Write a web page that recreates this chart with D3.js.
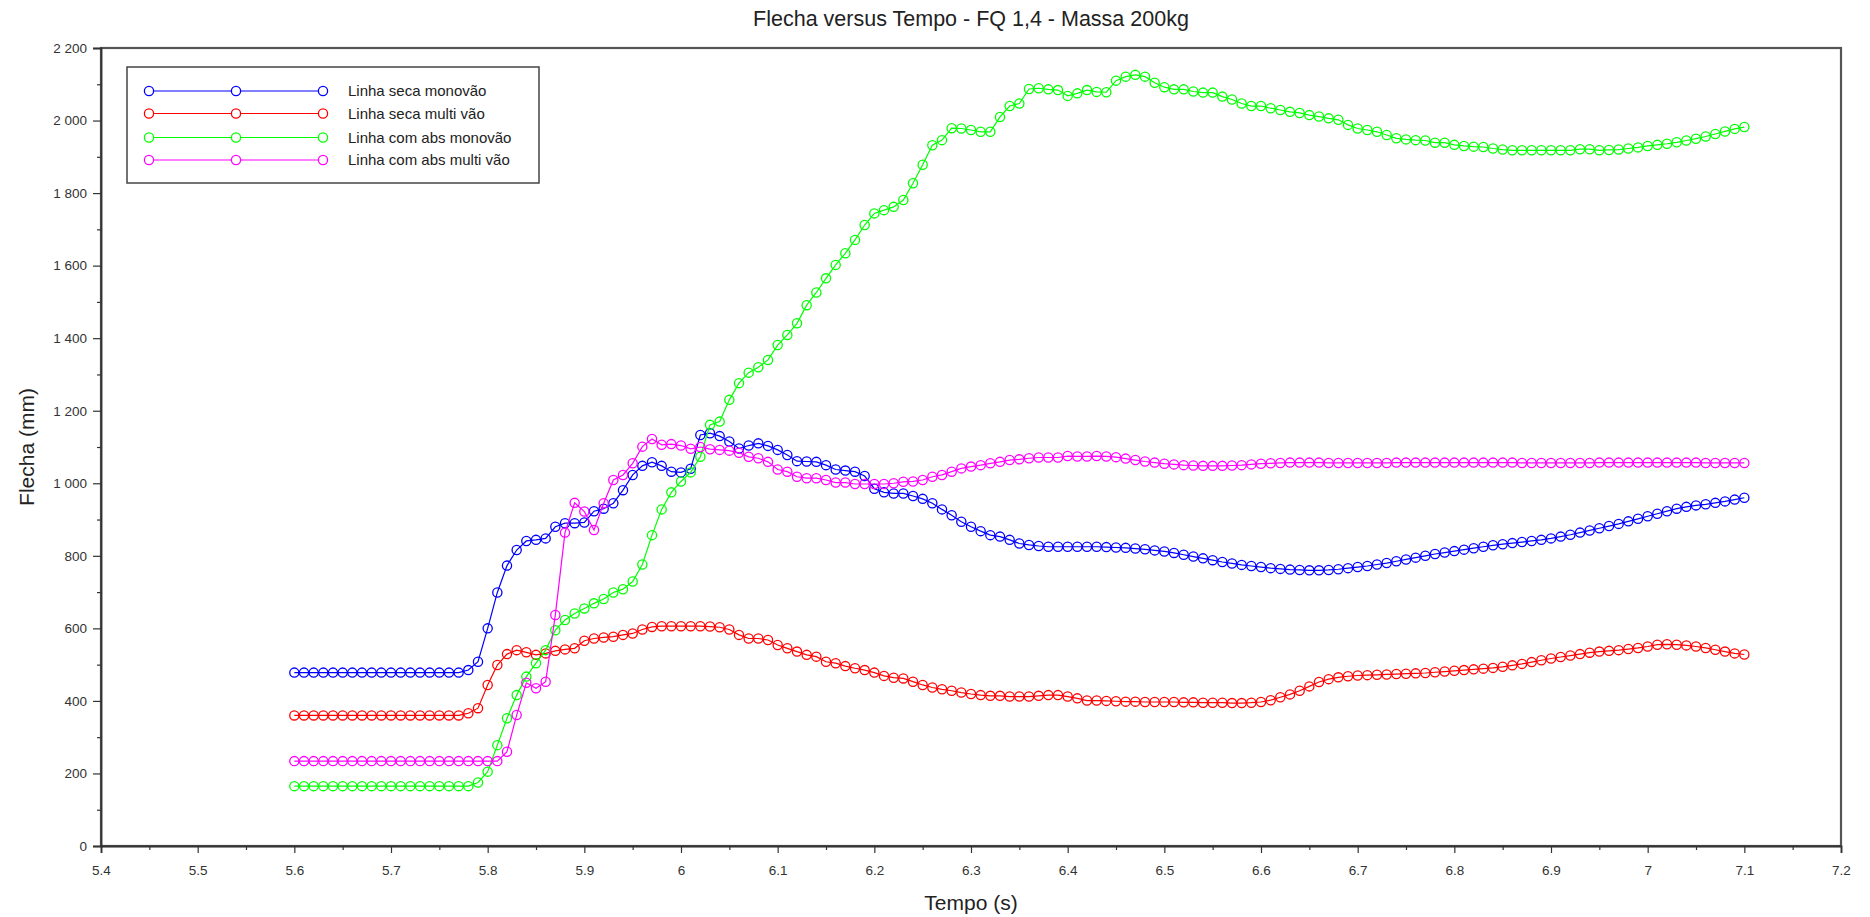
<!DOCTYPE html>
<html>
<head>
<meta charset="utf-8">
<script src="https://cdn.jsdelivr.net/npm/d3@7"></script>
<style>
  body { margin: 0; background: #fff; }
  svg { display: block; }
  text { font-family: "Liberation Sans", Arial, sans-serif; }
</style>
</head>
<body>
<svg id="chart" width="1870" height="917"></svg>
<script>
// Sample instants (s)
const tempo = [
  5.60,5.61,5.62,5.63,5.64,5.65,5.66,5.67,5.68,5.69,
  5.70,5.71,5.72,5.73,5.74,5.75,5.76,5.77,5.78,5.79,
  5.80,5.81,5.82,5.83,5.84,5.85,5.86,5.87,5.88,5.89,
  5.90,5.91,5.92,5.93,5.94,5.95,5.96,5.97,5.98,5.99,
  6.00,6.01,6.02,6.03,6.04,6.05,6.06,6.07,6.08,6.09,
  6.10,6.11,6.12,6.13,6.14,6.15,6.16,6.17,6.18,6.19,
  6.20,6.21,6.22,6.23,6.24,6.25,6.26,6.27,6.28,6.29,
  6.30,6.31,6.32,6.33,6.34,6.35,6.36,6.37,6.38,6.39,
  6.40,6.41,6.42,6.43,6.44,6.45,6.46,6.47,6.48,6.49,
  6.50,6.51,6.52,6.53,6.54,6.55,6.56,6.57,6.58,6.59,
  6.60,6.61,6.62,6.63,6.64,6.65,6.66,6.67,6.68,6.69,
  6.70,6.71,6.72,6.73,6.74,6.75,6.76,6.77,6.78,6.79,
  6.80,6.81,6.82,6.83,6.84,6.85,6.86,6.87,6.88,6.89,
  6.90,6.91,6.92,6.93,6.94,6.95,6.96,6.97,6.98,6.99,
  7.00,7.01,7.02,7.03,7.04,7.05,7.06,7.07,7.08,7.09,
  7.10
];

// Flecha (mm) - linha seca, monovão
const secaMonovao = [
  478,478,478,478,478,478,478,478,478,478,
  478,478,478,478,478,478,478,478,485,508,
  600,699,773,816,841,844,848,880,890,890,
  892,923,930,945,981,1023,1048,1058,1048,1032,
  1030,1040,1133,1138,1130,1115,1096,1104,1110,1103,
  1092,1078,1061,1060,1059,1050,1038,1035,1032,1020,
  985,975,972,972,965,957,945,928,912,894,
  880,868,857,853,844,834,830,827,825,825,
  825,825,825,825,824,823,822,820,818,815,
  812,808,803,798,793,788,783,779,775,772,
  769,766,764,762,761,760,760,761,763,766,
  769,772,776,780,785,790,795,800,805,809,
  813,817,821,825,829,832,835,838,841,844,
  848,853,858,864,870,876,882,888,895,902,
  909,916,923,930,935,939,942,946,950,955,
  960
];

// Flecha (mm) - linha seca, multi vão
const secaMultiVao = [
  360,360,360,360,360,360,360,360,360,360,
  360,360,360,360,360,360,360,360,366,380,
  444,499,529,540,534,527,531,538,542,545,
  566,572,575,577,582,586,597,604,606,606,
  606,606,606,605,603,597,582,572,572,568,
  554,545,536,527,522,508,504,496,490,485,
  478,469,464,462,453,444,437,432,428,423,
  419,416,414,414,412,412,412,414,416,416,
  412,407,401,401,400,399,398,398,397,397,
  397,397,396,396,395,395,395,394,394,395,
  397,402,410,418,428,440,452,460,465,468,
  470,471,472,473,474,475,476,477,479,481,
  483,485,487,489,491,494,498,502,507,512,
  517,521,525,529,533,536,538,540,543,546,
  550,555,556,555,553,550,546,541,536,531,
  528
];

// Flecha (mm) - linha com abs, monovão
const absMonovao = [
  165,165,165,165,165,165,165,165,165,165,
  165,165,165,165,165,165,165,165,165,175,
  205,278,352,416,467,504,540,595,623,641,
  655,669,681,699,708,729,776,857,928,975,
  1005,1030,1073,1161,1170,1230,1276,1305,1320,1340,
  1381,1409,1441,1491,1526,1565,1602,1634,1671,1712,
  1744,1753,1762,1781,1827,1878,1932,1946,1979,1978,
  1974,1969,1969,2010,2040,2047,2087,2089,2086,2084,
  2068,2075,2084,2079,2078,2110,2121,2126,2121,2104,
  2092,2086,2086,2080,2077,2077,2066,2058,2047,2040,
  2040,2034,2029,2024,2021,2015,2011,2006,2002,1988,
  1978,1974,1969,1960,1951,1948,1946,1945,1939,1939,
  1933,1930,1928,1927,1923,1920,1918,1918,1918,1918,
  1918,1918,1918,1921,1921,1918,1919,1920,1923,1926,
  1930,1933,1936,1940,1945,1950,1956,1963,1970,1977,
  1982
];

// Flecha (mm) - linha com abs, multi vão
const absMultiVao = [
  234,234,234,234,234,234,234,234,234,234,
  234,234,234,234,234,234,234,234,234,234,
  234,234,260,361,450,435,453,637,864,946,
  922,871,945,1009,1023,1055,1101,1122,1106,1108,
  1104,1095,1100,1094,1092,1090,1084,1073,1069,1059,
  1038,1032,1018,1014,1014,1009,1002,1002,998,998,
  998,998,1000,1004,1005,1009,1018,1023,1032,1041,
  1046,1050,1055,1059,1064,1066,1069,1071,1071,1071,
  1075,1074,1074,1075,1074,1072,1068,1064,1060,1057,
  1054,1052,1050,1049,1048,1048,1048,1049,1050,1052,
  1054,1055,1056,1057,1057,1057,1057,1056,1056,1056,
  1056,1056,1056,1056,1057,1057,1057,1057,1057,1057,
  1057,1057,1057,1057,1057,1057,1057,1056,1056,1056,
  1056,1056,1056,1056,1056,1057,1057,1057,1057,1057,
  1057,1057,1057,1057,1057,1057,1056,1056,1056,1056,
  1056
];

const seriesNames = [
  "Linha seca monovão",
  "Linha seca multi vão",
  "Linha com abs monovão",
  "Linha com abs multi vão"
];
const seriesValues = [secaMonovao, secaMultiVao, absMonovao, absMultiVao];
const seriesColors = ["#0000ff", "#ff0000", "#00ff00", "#ff00ff"];

const xDomain = [5.4, 7.2];
const yDomain = [0, 2200];
const xTicks = [5.4,5.5,5.6,5.7,5.8,5.9,6.0,6.1,6.2,6.3,6.4,6.5,6.6,6.7,6.8,6.9,7.0,7.1,7.2];
const xMinorTicks = [5.45,5.55,5.65,5.75,5.85,5.95,6.05,6.15,6.25,6.35,6.45,6.55,6.65,6.75,6.85,6.95,7.05,7.15];
const yTicks = [0,200,400,600,800,1000,1200,1400,1600,1800,2000,2200];
const yMinorTicks = [100,300,500,700,900,1100,1300,1500,1700,1900,2100];

const chartTitle = "Flecha versus Tempo - FQ 1,4 - Massa 200kg";
const xLabel = "Tempo (s)";
const yLabel = "Flecha (mm)";

// ---- layout ----
const svg = d3.select("#chart");
const plot = { left: 101, right: 1841, top: 48, bottom: 846 };

const x = d3.scaleLinear().domain(xDomain).range([plot.left, plot.right]);
const y = d3.scaleLinear().domain(yDomain).range([plot.bottom, plot.top]);

const locale = d3.formatLocale({ decimal: ".", thousands: " ", grouping: [3], currency: ["", ""] });
const yFmt = locale.format(",d");
const xFmt = d3.format(".1~f");

svg.append("rect").attr("width", 1870).attr("height", 917).attr("fill", "#fff");

// frame (top / right edges)
svg.append("rect")
  .attr("x", plot.left).attr("y", plot.top)
  .attr("width", plot.right - plot.left).attr("height", plot.bottom - plot.top)
  .attr("fill", "none").attr("stroke", "#555").attr("stroke-width", 2.2);

// y axis
svg.append("g").attr("transform", `translate(${plot.left},0)`)
  .call(d3.axisLeft(y).tickValues(yTicks).tickSize(8).tickPadding(6).tickFormat(yFmt));
svg.append("g").attr("transform", `translate(${plot.left},0)`)
  .call(d3.axisLeft(y).tickValues(yMinorTicks).tickSize(4).tickFormat(""))
  .call(g => g.select(".domain").remove());

// x axis
svg.append("g").attr("transform", `translate(0,${plot.bottom})`)
  .call(d3.axisBottom(x).tickValues(xTicks).tickSize(7).tickPadding(12).tickFormat(xFmt));
svg.append("g").attr("transform", `translate(0,${plot.bottom})`)
  .call(d3.axisBottom(x).tickValues(xMinorTicks).tickSize(4).tickFormat(""))
  .call(g => g.select(".domain").remove());

svg.selectAll(".domain").attr("stroke", "#333").attr("stroke-width", 1.8);
svg.selectAll(".tick line").attr("stroke", "#333").attr("stroke-width", 1.2);
svg.selectAll(".tick text").attr("fill", "#333").attr("font-size", 13.5)
  .attr("font-family", "'Liberation Sans', Arial, sans-serif");

// title and axis labels
svg.append("text").attr("x", (plot.left + plot.right) / 2).attr("y", 26)
  .attr("text-anchor", "middle").attr("font-size", 21.5).attr("fill", "#222").text(chartTitle);
svg.append("text").attr("x", (plot.left + plot.right) / 2).attr("y", 910)
  .attr("text-anchor", "middle").attr("font-size", 21).attr("fill", "#222").text(xLabel);
svg.append("text").attr("transform", `translate(34,${(plot.top + plot.bottom) / 2}) rotate(-90)`)
  .attr("text-anchor", "middle").attr("font-size", 21).attr("fill", "#222").text(yLabel);

// series
const line = d3.line().x((d, i) => x(tempo[i])).y(d => y(d));
const gSeries = svg.append("g");
seriesValues.forEach((vals, k) => {
  const g = gSeries.append("g");
  g.append("path").datum(vals).attr("d", line)
    .attr("fill", "none").attr("stroke", seriesColors[k]).attr("stroke-width", 1.2);
  g.selectAll("circle").data(vals).join("circle")
    .attr("cx", (d, i) => x(tempo[i])).attr("cy", d => y(d)).attr("r", 4.6)
    .attr("fill", "none").attr("stroke", seriesColors[k]).attr("stroke-width", 1.3);
});

// legend
const leg = svg.append("g");
leg.append("rect").attr("x", 127).attr("y", 67).attr("width", 412).attr("height", 116)
  .attr("fill", "#fff").attr("stroke", "#444").attr("stroke-width", 1.5);
const legRows = [91, 113.5, 137.5, 160];
seriesNames.forEach((name, k) => {
  const ly = legRows[k];
  leg.append("line").attr("x1", 149).attr("x2", 323).attr("y1", ly).attr("y2", ly)
    .attr("stroke", seriesColors[k]).attr("stroke-width", 1.2);
  [149, 236, 323].forEach(cx => leg.append("circle").attr("cx", cx).attr("cy", ly).attr("r", 4.6)
    .attr("fill", "#fff").attr("stroke", seriesColors[k]).attr("stroke-width", 1.3));
  leg.append("text").attr("x", 348).attr("y", ly + 5).attr("font-size", 15).attr("fill", "#222").text(name);
});
</script>
</body>
</html>
